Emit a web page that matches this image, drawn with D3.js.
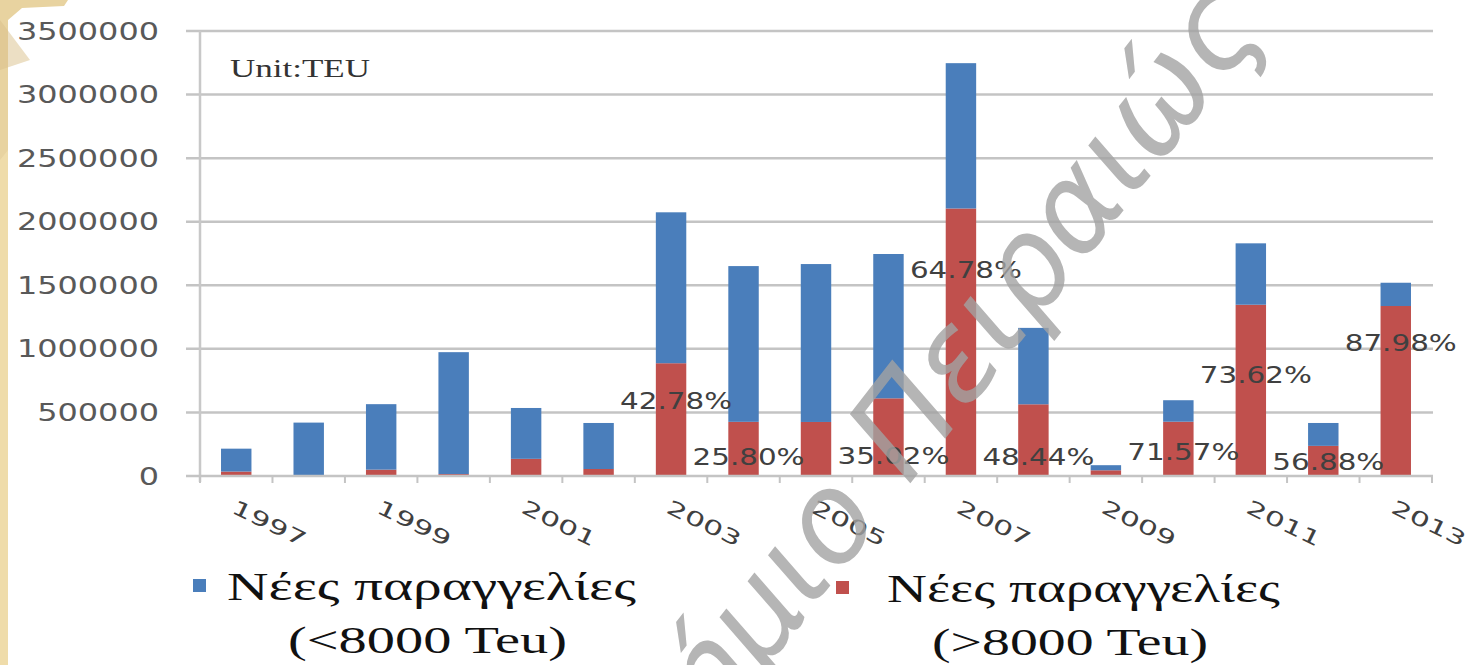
<!DOCTYPE html>
<html>
<head>
<meta charset="utf-8">
<script src="https://cdn.jsdelivr.net/npm/d3@7"></script>
<style>
  html, body { margin: 0; padding: 0; background: #ffffff; }
  svg { display: block; }
</style>
</head>
<body>
<svg id="chart" width="1469" height="665"></svg>
<script>
// ---------------- DATA ----------------
const years = ["1997","1998","1999","2000","2001","2002","2003","2004","2005","2006","2007","2008","2009","2010","2011","2012","2013"];
// New orders, ships > 8000 TEU (red, bottom of stack)
const ordersLarge = [35000, 0, 50000, 15000, 135000, 55000, 887000, 426000, 425000, 611000, 2104000, 564000, 45000, 427000, 1347000, 237000, 1337000];
// New orders, ships < 8000 TEU (blue, top of stack)
const ordersSmall = [180000, 420000, 515000, 959000, 400000, 362000, 1187000, 1225000, 1242000, 1135000, 1143000, 601000, 40000, 169000, 483000, 180000, 183000];
// Share of > 8000 TEU labels
const shareLabels = ["", "", "", "", "", "", "42.78%", "25.80%", "", "35.02%", "64.78%", "48.44%", "", "71.57%", "73.62%", "56.88%", "87.98%"];
const yTicks = [0, 500000, 1000000, 1500000, 2000000, 2500000, 3000000, 3500000];
const xTickLabels = ["1997","1999","2001","2003","2005","2007","2009","2011","2013"];
const seriesNames = ["Νέες παραγγελίες", "Νέες παραγγελίες"];
const seriesSub = ["(<8000 Teu)", "(>8000 Teu)"];
const unitText = "Unit:TEU";
const watermarkText = "Πανεπιστήμιο Πειραιώς";

// ---------------- LAYOUT ----------------
const colors = { small: "#4a7ebb", large: "#c0504d" };
// vertical anchor (in TEU) where each share label sits
const labelAnchor = [0, 0, 0, 0, 0, 0, 596000, 150000, 0, 163000, 1620000, 150000, 0, 189000, 793000, 110000, 1045000];

const svg = d3.select("#chart");

// left decorative beige edge
svg.append("rect").attr("x", 0).attr("y", 0).attr("width", 8).attr("height", 665).attr("fill", "#efdcaa");
svg.append("path").attr("d", "M0,0 L68,0 L64,6 L22,8 L8,20 L8,150 L0,160 Z").attr("fill", "#e8d3a0");
svg.append("path").attr("d", "M0,20 L30,60 L0,70 Z").attr("fill", "#d9c08a").attr("opacity", 0.5);

const x = d3.scaleBand().domain(years).range([200, 1432]).paddingInner(0.58).paddingOuter(0.29);
const y = d3.scaleLinear().domain([0, 3500000]).range([476, 31]);

// gridlines
svg.append("g").selectAll("line").data(yTicks.filter(d => d > 0)).join("line")
  .attr("x1", 186).attr("x2", 1433)
  .attr("y1", d => y(d)).attr("y2", d => y(d))
  .attr("stroke", "#c4c4c4").attr("stroke-width", 2.5);

// y axis line
svg.append("line").attr("x1", 200).attr("x2", 200).attr("y1", 31).attr("y2", 482)
  .attr("stroke", "#c8c8c8").attr("stroke-width", 2.5);

// y tick labels
svg.append("g").selectAll("text").data(yTicks).join("text")
  .attr("x", 159).attr("y", d => y(d)).attr("dy", "0.36em")
  .attr("text-anchor", "end")
  .attr("font-family", "DejaVu Sans, sans-serif").attr("font-size", 24)
  .attr("fill", "#595959")
  .attr("textLength", d => String(d).length * 20.3)
  .attr("lengthAdjust", "spacingAndGlyphs")
  .text(d => String(d));

// stacked bars
const stackData = years.map((yr, i) => ({ year: yr, large: ordersLarge[i], small: ordersSmall[i] }));
const stack = d3.stack().keys(["large", "small"])(stackData);
svg.append("g").selectAll("g").data(stack).join("g")
  .attr("fill", s => colors[s.key])
  .selectAll("rect").data(s => s).join("rect")
  .attr("x", d => x(d.data.year))
  .attr("width", x.bandwidth())
  .attr("y", d => y(d[1]))
  .attr("height", d => Math.max(0, y(d[0]) - y(d[1])));

// x axis line + ticks between categories
svg.append("line").attr("x1", 186).attr("x2", 1433).attr("y1", 476).attr("y2", 476)
  .attr("stroke", "#c4c4c4").attr("stroke-width", 2.5);
const boundaries = d3.range(years.length + 1).map(k => 200 + k * (1232 / years.length));
svg.append("g").selectAll("line").data(boundaries).join("line")
  .attr("x1", d => d).attr("x2", d => d).attr("y1", 476).attr("y2", 483)
  .attr("stroke", "#c4c4c4").attr("stroke-width", 2);

// x tick labels (rotated)
svg.append("g").selectAll("text").data(xTickLabels).join("text")
  .attr("transform", d => `translate(${x(d) + x.bandwidth() / 2 - 6},${512}) rotate(26)`)
  .attr("font-family", "DejaVu Sans, sans-serif").attr("font-size", 20)
  .attr("fill", "#404040")
  .attr("textLength", 80).attr("lengthAdjust", "spacingAndGlyphs")
  .text(d => d);

// share labels
svg.append("g").selectAll("text").data(years.map((yr, i) => ({ yr, t: shareLabels[i], v: labelAnchor[i] })).filter(d => d.t))
  .join("text")
  .attr("x", d => x(d.yr) + x.bandwidth() / 2 + 5)
  .attr("y", d => y(d.v)).attr("dy", "0.36em")
  .attr("text-anchor", "middle")
  .attr("font-family", "DejaVu Sans, sans-serif").attr("font-size", 23)
  .attr("fill", "#404040")
  .attr("textLength", 112).attr("lengthAdjust", "spacingAndGlyphs")
  .text(d => d.t);

// unit text
svg.append("text").attr("x", 230).attr("y", 77)
  .attr("font-family", "Liberation Serif, serif").attr("font-size", 25)
  .attr("fill", "#333333")
  .attr("textLength", 140).attr("lengthAdjust", "spacingAndGlyphs")
  .text(unitText);

// legend
const legendItems = [
  { sq: [193, 579], c: colors.small, l1: [227, 600, 409], l2: [288, 653, 279] },
  { sq: [836, 581], c: colors.large, l1: [887, 602, 393], l2: [932, 655, 276] }
];
const lg = svg.append("g").selectAll("g").data(legendItems).join("g");
lg.append("rect").attr("x", d => d.sq[0]).attr("y", d => d.sq[1]).attr("width", 13).attr("height", 13).attr("fill", d => d.c);
lg.append("text").attr("x", d => d.l1[0]).attr("y", d => d.l1[1])
  .attr("font-family", "Liberation Serif, serif").attr("font-size", 40).attr("fill", "#111111")
  .attr("textLength", d => d.l1[2]).attr("lengthAdjust", "spacingAndGlyphs")
  .text((d, i) => seriesNames[i]);
lg.append("text").attr("x", d => d.l2[0]).attr("y", d => d.l2[1])
  .attr("font-family", "Liberation Serif, serif").attr("font-size", 38).attr("fill", "#111111")
  .attr("textLength", d => d.l2[2]).attr("lengthAdjust", "spacingAndGlyphs")
  .text((d, i) => seriesSub[i]);

// watermark
svg.append("text")
  .attr("transform", "translate(1266,28) rotate(-52)")
  .attr("text-anchor", "end")
  .attr("font-family", "DejaVu Sans, sans-serif").attr("font-style", "italic").attr("font-weight", 200)
  .attr("font-size", 124)
  .attr("fill", "#a3a3a3").attr("opacity", 0.8)
  .text(watermarkText);
</script>
</body>
</html>
